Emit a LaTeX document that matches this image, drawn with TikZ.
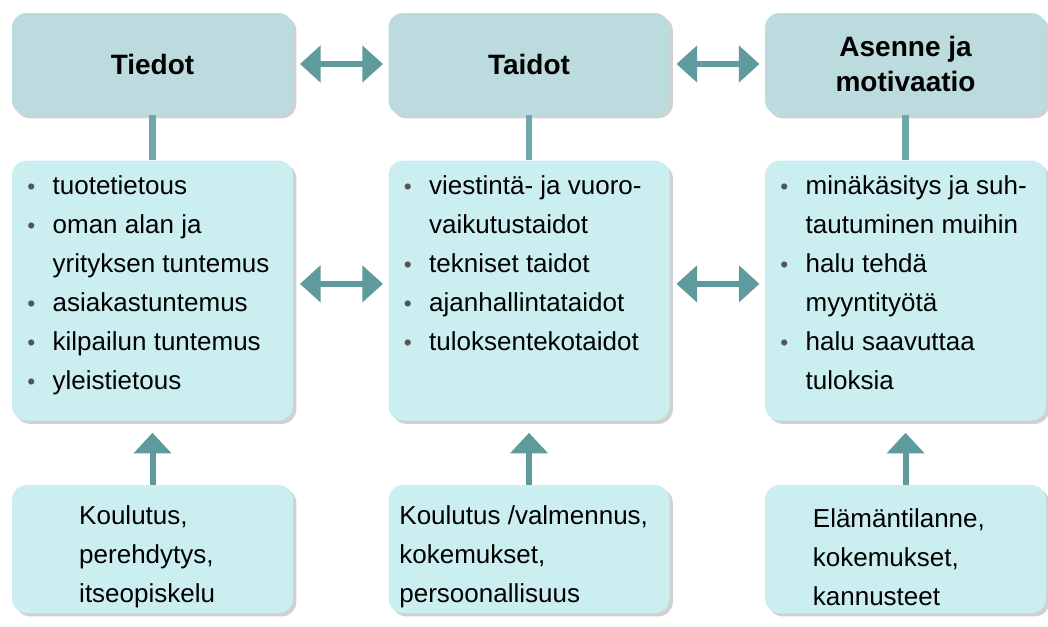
\documentclass[tikz,border=0pt]{standalone}
\usepackage{fontspec}
\setmainfont{Liberation Sans}
\usetikzlibrary{arrows.meta, positioning, shadows}

\definecolor{topfill}{RGB}{187,219,222}
\definecolor{boxfill}{RGB}{203,238,240}
\definecolor{arrowc}{RGB}{95,155,156}
\definecolor{linkc}{RGB}{110,168,170}
\definecolor{bulgrey}{RGB}{85,85,85}

% bullet item and continuation line
\newcommand{\itm}[1]{\strut\makebox[19pt][l]{\textcolor{bulgrey}{\fontsize{17}{17}\selectfont\textbullet}}#1}
\newcommand{\cnt}[1]{\strut\hspace*{19pt}#1}

\begin{document}
\begin{tikzpicture}[
    x=0.75pt, y=-0.75pt,
    every node/.style={font=\fontsize{19.5}{29.25}\selectfont},
    sbox/.style={rounded corners=11pt, minimum width=210.75pt, inner sep=0pt,
                 drop shadow={shadow xshift=2.5pt, shadow yshift=-2.5pt, fill=black, opacity=0.18}},
    head/.style={sbox, fill=topfill, minimum height=76.5pt, align=center,
                 font=\bfseries\fontsize{21}{26.25}\selectfont},
    body/.style={sbox, fill=boxfill, minimum height=195pt},
    base/.style={sbox, fill=boxfill, minimum height=96pt},
    list/.style={align=left, inner sep=0pt},
    link/.style={draw=linkc, line width=5pt},
    dblarrow/.style={{Triangle[width=27pt, length=15.5pt]}-{Triangle[width=27pt, length=15.5pt]},
                     draw=arrowc, line width=4.5pt, shorten <=5pt, shorten >=4pt},
    uparrow/.style={-{Triangle[width=27.75pt, length=15.5pt]}, draw=arrowc, line width=4.5pt,
                    shorten >=9pt},
]
\useasboundingbox (0,0) rectangle (1048,626);

% ===== TOP ROW =====
\node[head] (t1) at (152.5,64) {Tiedot};
\node[head, right=71.25pt of t1] (t2) {Taidot};
\node[head, right=71.25pt of t2] (t3) {Asenne ja\\motivaatio};

% ===== MIDDLE ROW =====
\node[body, below=33.75pt of t1] (m1) {};
\node[body, below=33.75pt of t2] (m2) {};
\node[body, below=33.75pt of t3] (m3) {};

\node[list, anchor=north west] (m1-txt) at ([xshift=11.5pt, yshift=-5pt]m1.north west)
    {\itm{tuotetietous}\\ \itm{oman alan ja}\\ \cnt{yrityksen tuntemus}\\
     \itm{asiakastuntemus}\\ \itm{kilpailun tuntemus}\\ \itm{yleistietous}};
\node[list, anchor=north west] (m2-txt) at ([xshift=11.5pt, yshift=-5pt]m2.north west)
    {\itm{viestintä- ja vuoro-}\\ \cnt{vaikutustaidot}\\ \itm{tekniset taidot}\\
     \itm{ajanhallintataidot}\\ \itm{tuloksentekotaidot}};
\node[list, anchor=north west] (m3-txt) at ([xshift=11.5pt, yshift=-5pt]m3.north west)
    {\itm{minäkäsitys ja suh-}\\ \cnt{tautuminen muihin}\\ \itm{halu tehdä}\\
     \cnt{myyntityötä}\\ \itm{halu saavuttaa}\\ \cnt{tuloksia}};

% ===== BOTTOM ROW =====
\node[base, below=48pt of m1] (b1) {};
\node[base, below=48pt of m2] (b2) {};
\node[base, below=48pt of m3] (b3) {};

\node[list] (b1-txt) at ([xshift=-4pt, yshift=-6pt]b1) {Koulutus,\\perehdytys,\\itseopiskelu};
\node[list] (b2-txt) at ([xshift=-4pt, yshift=-6pt]b2) {Koulutus /valmennus,\\kokemukset,\\persoonallisuus};
\node[list] (b3-txt) at ([xshift=-5pt, yshift=-6pt]b3) {Elämäntilanne,\\kokemukset,\\kannusteet};

% ===== CONNECTORS =====
\foreach \i in {1,2,3} {
    \draw[link] (t\i) -- (m\i);
    \draw[uparrow] (b\i) -- (m\i);
}
\draw[dblarrow] (t1) -- (t2);
\draw[dblarrow] (t2) -- (t3);
\draw[dblarrow] ([yshift=5pt]m1.east) -- ([yshift=5pt]m2.west);
\draw[dblarrow] ([yshift=5pt]m2.east) -- ([yshift=5pt]m3.west);

\end{tikzpicture}
\end{document}
